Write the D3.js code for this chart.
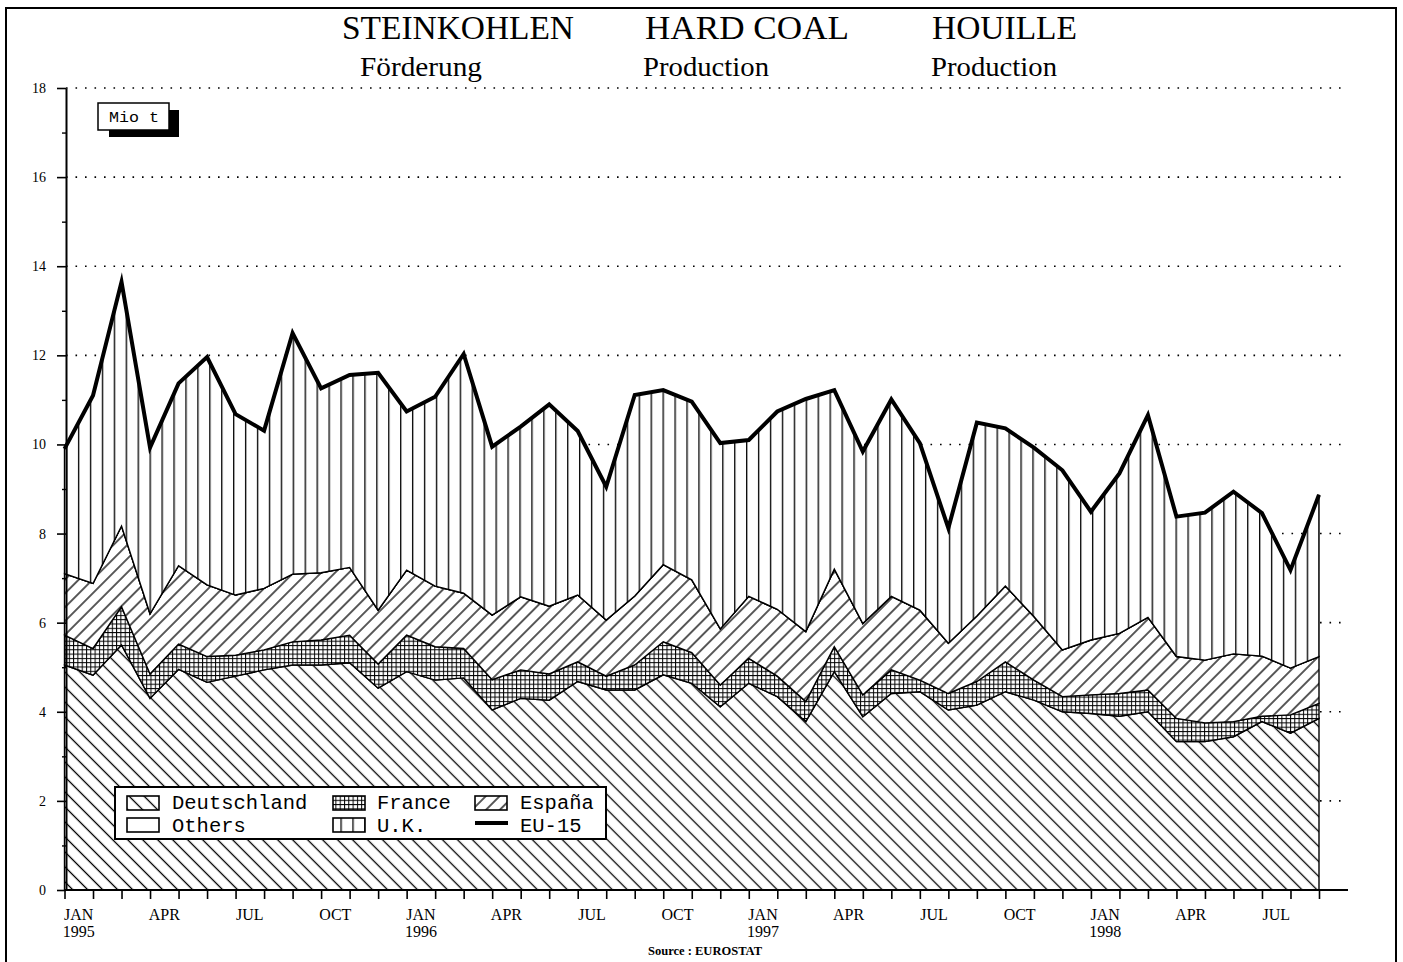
<!DOCTYPE html>
<html><head><meta charset="utf-8">
<script src="https://cdn.jsdelivr.net/npm/d3@7"></script>
<style>html,body{margin:0;padding:0;background:#fff;} svg{display:block;}</style>
</head><body><svg id="c" width="1403" height="962"></svg>
<script>
// ---------------- DATA ----------------
const months = [
 "1995-01","1995-02","1995-03","1995-04","1995-05","1995-06","1995-07","1995-08","1995-09","1995-10","1995-11","1995-12",
 "1996-01","1996-02","1996-03","1996-04","1996-05","1996-06","1996-07","1996-08","1996-09","1996-10","1996-11","1996-12",
 "1997-01","1997-02","1997-03","1997-04","1997-05","1997-06","1997-07","1997-08","1997-09","1997-10","1997-11","1997-12",
 "1998-01","1998-02","1998-03","1998-04","1998-05","1998-06","1998-07","1998-08","1998-09"];
const deutschland = [5.05,4.82,5.50,4.30,4.95,4.66,4.80,4.94,5.05,5.05,5.10,4.53,4.90,4.71,4.76,4.04,4.30,4.26,4.68,4.49,4.49,4.83,4.64,4.11,4.64,4.34,3.78,4.90,3.89,4.41,4.45,4.04,4.15,4.45,4.26,4.00,3.96,3.90,4.00,3.33,3.33,3.44,3.78,3.52,3.85];
const france = [0.67,0.60,0.86,0.55,0.57,0.58,0.47,0.45,0.52,0.56,0.62,0.54,0.82,0.75,0.66,0.68,0.64,0.59,0.44,0.31,0.56,0.74,0.69,0.49,0.56,0.46,0.45,0.56,0.49,0.53,0.26,0.37,0.53,0.67,0.45,0.34,0.42,0.51,0.49,0.52,0.42,0.34,0.12,0.41,0.34];
const espana = [1.38,1.46,1.81,1.35,1.76,1.61,1.35,1.38,1.52,1.51,1.52,1.21,1.46,1.36,1.24,1.45,1.64,1.52,1.50,1.26,1.55,1.73,1.63,1.26,1.39,1.50,1.57,1.74,1.60,1.65,1.57,1.13,1.47,1.70,1.43,1.05,1.23,1.35,1.63,1.39,1.41,1.52,1.35,1.05,1.05];
const others = [0,0,0,0,0,0,0,0,0,0,0,0,0,0,0,0,0,0,0,0,0,0,0,0,0,0,0,0,0,0,0,0,0,0,0,0,0,0,0,0,0,0,0,0,0];
const uk = [2.80,4.22,5.48,3.73,4.09,5.11,4.06,3.54,5.41,4.14,4.32,5.33,3.56,4.25,5.37,3.78,3.82,4.53,3.68,2.99,4.51,3.92,4.00,4.17,3.51,4.44,5.22,4.02,3.86,4.42,3.75,2.58,4.34,3.54,3.79,4.03,2.88,3.59,4.54,3.14,3.31,3.64,3.21,2.20,3.63];
const quarterLabels = ["JAN","APR","JUL","OCT"];
const yearLabels = ["1995","1996","1997","1998"];
const yTicks = [0,2,4,6,8,10,12,14,16,18];
const yMinorTicks = [1,3,5,7,9,11,13,15,17];
const seriesNames = ["Deutschland","France","España","Others","U.K."];
const titles = ["STEINKOHLEN","HARD COAL","HOUILLE"];
const subtitles = ["Förderung","Production","Production"];
const unitLabel = "Mio t";
const sourceLabel = "Source : EUROSTAT";

// ---------------- SETUP ----------------
const svg = d3.select("#c");
const x = d3.scaleLinear().domain([0, months.length-1]).range([64.5, 1319]);
const y = d3.scaleLinear().domain([0,18]).range([890, 88]);
const serif = "'Liberation Serif','Times New Roman',serif";
const mono = "'Liberation Mono','Courier New',monospace";

// patterns
const defs = svg.append("defs");
function hatch(id, spacing, angle, sw){
  const p = defs.append("pattern").attr("id",id).attr("patternUnits","userSpaceOnUse")
    .attr("width",spacing).attr("height",spacing).attr("patternTransform",`rotate(${angle})`);
  p.append("rect").attr("width",spacing).attr("height",spacing).attr("fill","#fff");
  p.append("line").attr("x1",spacing/2).attr("x2",spacing/2).attr("y1",-1).attr("y2",spacing+1)
    .attr("stroke","#000").attr("stroke-width",sw);
}
hatch("pDE", 10.6, -45, 1.3);
hatch("pES", 9.8, 45, 1.3);
(function(){
  const p = defs.append("pattern").attr("id","pUK").attr("patternUnits","userSpaceOnUse")
    .attr("x",66).attr("width",11.93).attr("height",20);
  p.append("rect").attr("width",11.93).attr("height",20).attr("fill","#fff");
  p.append("line").attr("x1",0.7).attr("x2",0.7).attr("y1",0).attr("y2",20).attr("stroke","#000").attr("stroke-width",1.3);
  const g = defs.append("pattern").attr("id","pFR").attr("patternUnits","userSpaceOnUse")
    .attr("width",4.3).attr("height",4.3);
  g.append("rect").attr("width",4.3).attr("height",4.3).attr("fill","#fff");
  g.append("line").attr("x1",0).attr("x2",4.3).attr("y1",0.5).attr("y2",0.5).attr("stroke","#000").attr("stroke-width",1);
  g.append("line").attr("x1",0.5).attr("x2",0.5).attr("y1",0).attr("y2",4.3).attr("stroke","#000").attr("stroke-width",1);
})();
const fills = {"Deutschland":"url(#pDE)","France":"url(#pFR)","España":"url(#pES)","Others":"#fff","U.K.":"url(#pUK)"};

// frame
svg.append("path").attr("d","M6,962 V8 H1396 V962").attr("fill","none").attr("stroke","#000").attr("stroke-width",2);

// titles
const tX = [342,645,932], tW = [232,204,145];
titles.forEach((t,k)=>svg.append("text").attr("x",tX[k]).attr("y",39).attr("font-family",serif)
  .attr("font-size",33).attr("textLength",tW[k]).attr("lengthAdjust","spacingAndGlyphs").text(t));
const sX = [360,643,931], sW = [122,126,126];
subtitles.forEach((t,k)=>svg.append("text").attr("x",sX[k]).attr("y",76).attr("font-family",serif)
  .attr("font-size",28).attr("textLength",sW[k]).attr("lengthAdjust","spacingAndGlyphs").text(t));

// gridlines
svg.append("g").selectAll("line").data(yTicks.filter(v=>v>0)).join("line")
  .attr("x1",66).attr("x2",1348).attr("y1",d=>y(d)).attr("y2",d=>y(d))
  .attr("stroke","#000").attr("stroke-width",1.6).attr("stroke-dasharray","1.6,7.9");

// stacked areas
const rows = months.map((m,i)=>({"Deutschland":deutschland[i],"France":france[i],"España":espana[i],"Others":others[i],"U.K.":uk[i]}));
const stack = d3.stack().keys(seriesNames)(rows);
const area = d3.area().x((d,i)=>x(i)).y0(d=>y(d[0])).y1(d=>y(d[1])).curve(d3.curveLinear);
svg.append("g").selectAll("path").data(stack).join("path")
  .attr("d",area).attr("fill",s=>fills[s.key]).attr("stroke","#000").attr("stroke-width",1.4)
  .attr("stroke-linejoin","miter");

// EU-15 total line
const line = d3.line().x((d,i)=>x(i)).y(d=>y(d[1]));
svg.append("path").datum(stack[stack.length-1]).attr("d",line).attr("fill","none")
  .attr("stroke","#000").attr("stroke-width",4).attr("stroke-linejoin","miter").attr("stroke-miterlimit",10);

// y axis
const yAx = svg.append("g").attr("transform","translate(66,0)")
  .call(d3.axisLeft(y).tickValues(yTicks).tickSize(9).tickSizeOuter(0).tickPadding(11).tickFormat(d3.format("d")));
yAx.select(".domain").attr("stroke-width",2);
yAx.selectAll(".tick line").attr("stroke-width",1.6);
yAx.selectAll("text").attr("font-family",serif).attr("font-size",14).attr("fill","#000");
const yMin = svg.append("g").attr("transform","translate(66,0)")
  .call(d3.axisLeft(y).tickValues(yMinorTicks).tickSize(4).tickFormat(""));
yMin.select(".domain").remove();
yMin.selectAll(".tick line").attr("stroke-width",1.4);

// x axis
svg.append("line").attr("x1",64).attr("x2",1348).attr("y1",890).attr("y2",890).attr("stroke","#000").attr("stroke-width",2.2);
const xAx = svg.append("g").attr("transform","translate(0,890)")
  .call(d3.axisBottom(x).tickValues(d3.range(months.length)).tickSize(9).tickFormat(""));
xAx.select(".domain").remove();
xAx.selectAll(".tick line").attr("stroke-width",1.6);
const xl = svg.append("g").attr("font-family",serif).attr("font-size",16).attr("text-anchor","middle");
months.forEach((m,i)=>{
  const mo = +m.slice(5,7)-1;
  if(mo%3===0){
    xl.append("text").attr("x",x(i+0.5)).attr("y",920).text(quarterLabels[mo/3]);
    if(mo===0) xl.append("text").attr("x",x(i+0.5)).attr("y",937).text(yearLabels[yearLabels.indexOf(m.slice(0,4))]);
  }
});

// source
svg.append("text").attr("x",648).attr("y",955).attr("font-family",serif).attr("font-weight","bold")
  .attr("font-size",12).attr("textLength",114).attr("lengthAdjust","spacingAndGlyphs").text(sourceLabel);

// unit box
svg.append("rect").attr("x",109).attr("y",110).attr("width",70).attr("height",27).attr("fill","#000");
svg.append("rect").attr("x",98).attr("y",103).attr("width",71).attr("height",27).attr("fill","#fff").attr("stroke","#000").attr("stroke-width",1.5);
svg.append("text").attr("x",109).attr("y",122).attr("font-family",mono).attr("font-size",15)
  .attr("textLength",50).attr("lengthAdjust","spacingAndGlyphs").text(unitLabel);

// legend
const lg = svg.append("g");
lg.append("rect").attr("x",115).attr("y",787).attr("width",491).attr("height",52).attr("fill","#fff").attr("stroke","#000").attr("stroke-width",2);
const legendItems = [
  {name:"Deutschland", col:0,row:0},{name:"France",col:1,row:0},{name:"España",col:2,row:0},
  {name:"Others",col:0,row:1},{name:"U.K.",col:1,row:1},{name:"EU-15",col:2,row:1}];
const colSw = [127,333,475], colTx = [172,377,520], rowSw=[796,818], rowTx=[809,832];
legendItems.forEach(it=>{
  if(it.name==="EU-15"){
    lg.append("line").attr("x1",colSw[it.col]).attr("x2",colSw[it.col]+33).attr("y1",823).attr("y2",823)
      .attr("stroke","#000").attr("stroke-width",4);
  } else {
    lg.append("rect").attr("x",colSw[it.col]).attr("y",rowSw[it.row]).attr("width",32).attr("height",14)
      .attr("fill",fills[it.name]).attr("stroke","#000").attr("stroke-width",1.6);
  }
  lg.append("text").attr("x",colTx[it.col]).attr("y",rowTx[it.row]).attr("font-family",mono).attr("font-size",20.5).text(it.name);
});
</script></body></html>
